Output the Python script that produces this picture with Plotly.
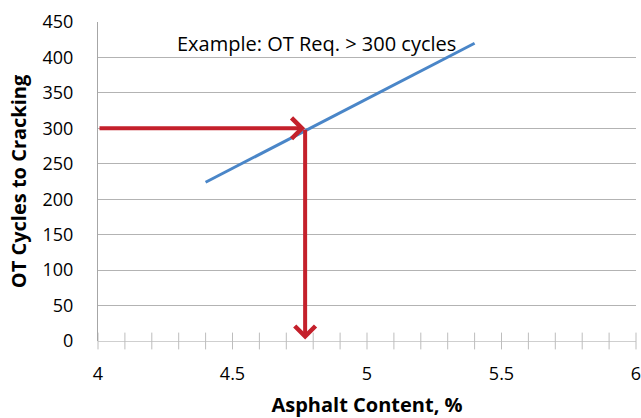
import numpy as np
import plotly.graph_objects as go

# Relationship between asphalt content and OT cycles to cracking
asphalt_content = [4.4, 5.4]
ot_cycles = [224, 420]

# Design example: required cycles and the matching asphalt content
required_cycles = 300
required_content = 4.77

# Axis ticks
x_ticks = [4, 4.5, 5, 5.5, 6]
x_minor = [round(4 + 0.1 * i, 1) for i in range(21)]
y_ticks = list(range(0, 451, 50))

RED = "#C4202B"
BLUE = "#4A86C8"
GRID = "#B3B3B3"
FONT = "Open Sans"

fig = go.Figure()

# cross-through tick marks along the x axis
fig.add_trace(go.Scatter(
    x=x_minor, y=[0] * len(x_minor), mode="markers",
    marker=dict(symbol="line-ns", size=12, line=dict(color="#BDBDBD", width=1)),
    hoverinfo="skip", showlegend=False, cliponaxis=False,
))

fig.add_trace(go.Scatter(
    x=asphalt_content, y=ot_cycles, mode="lines",
    line=dict(color=BLUE, width=3), showlegend=False,
))

# horizontal arrow: from the y axis to the curve
fig.add_annotation(
    x=required_content, y=required_cycles, ax=4.0, ay=required_cycles,
    xref="x", yref="y", axref="x", ayref="y",
    showarrow=True, arrowhead=4, arrowsize=1.0, arrowwidth=4, arrowcolor=RED,
    text="",
)
# vertical arrow: from the curve down to the x axis
fig.add_annotation(
    x=required_content, y=2, ax=required_content, ay=required_cycles,
    xref="x", yref="y", axref="x", ayref="y",
    showarrow=True, arrowhead=4, arrowsize=1.0, arrowwidth=4, arrowcolor=RED,
    text="",
)

fig.add_annotation(
    x=4.285, y=419, xref="x", yref="y", xanchor="left", yanchor="middle",
    text="Example: OT Req. > 300 cycles", showarrow=False,
    font=dict(family=FONT, size=20, color="#000000"),
)

fig.update_layout(
    width=641, height=418,
    margin=dict(l=98, r=5, t=22, b=77),
    paper_bgcolor="white", plot_bgcolor="white",
    font=dict(family=FONT, size=18, color="#000000"),
)

fig.update_xaxes(
    range=[4, 6], tickvals=x_ticks, ticktext=[str(v) for v in x_ticks],
    showgrid=False, zeroline=False, showline=False, ticks="",
    ticklabelstandoff=20, ticklabeloverflow="allow", automargin=False,
    title=dict(text="<b>Asphalt Content, %</b>", font=dict(family=FONT, size=20), standoff=15),
)
fig.update_yaxes(
    range=[0, 450], tickvals=y_ticks, automargin=False,
    showgrid=True, gridcolor=GRID, gridwidth=1,
    zeroline=True, zerolinecolor="#CFCFCF", zerolinewidth=1,
    showline=True, linecolor="#A6A6A6", linewidth=1, ticks="",
    ticklabelstandoff=20,
    title=dict(text="<b>OT Cycles to Cracking</b>", font=dict(family=FONT, size=20), standoff=10),
)

fig.write_html("out.html")
